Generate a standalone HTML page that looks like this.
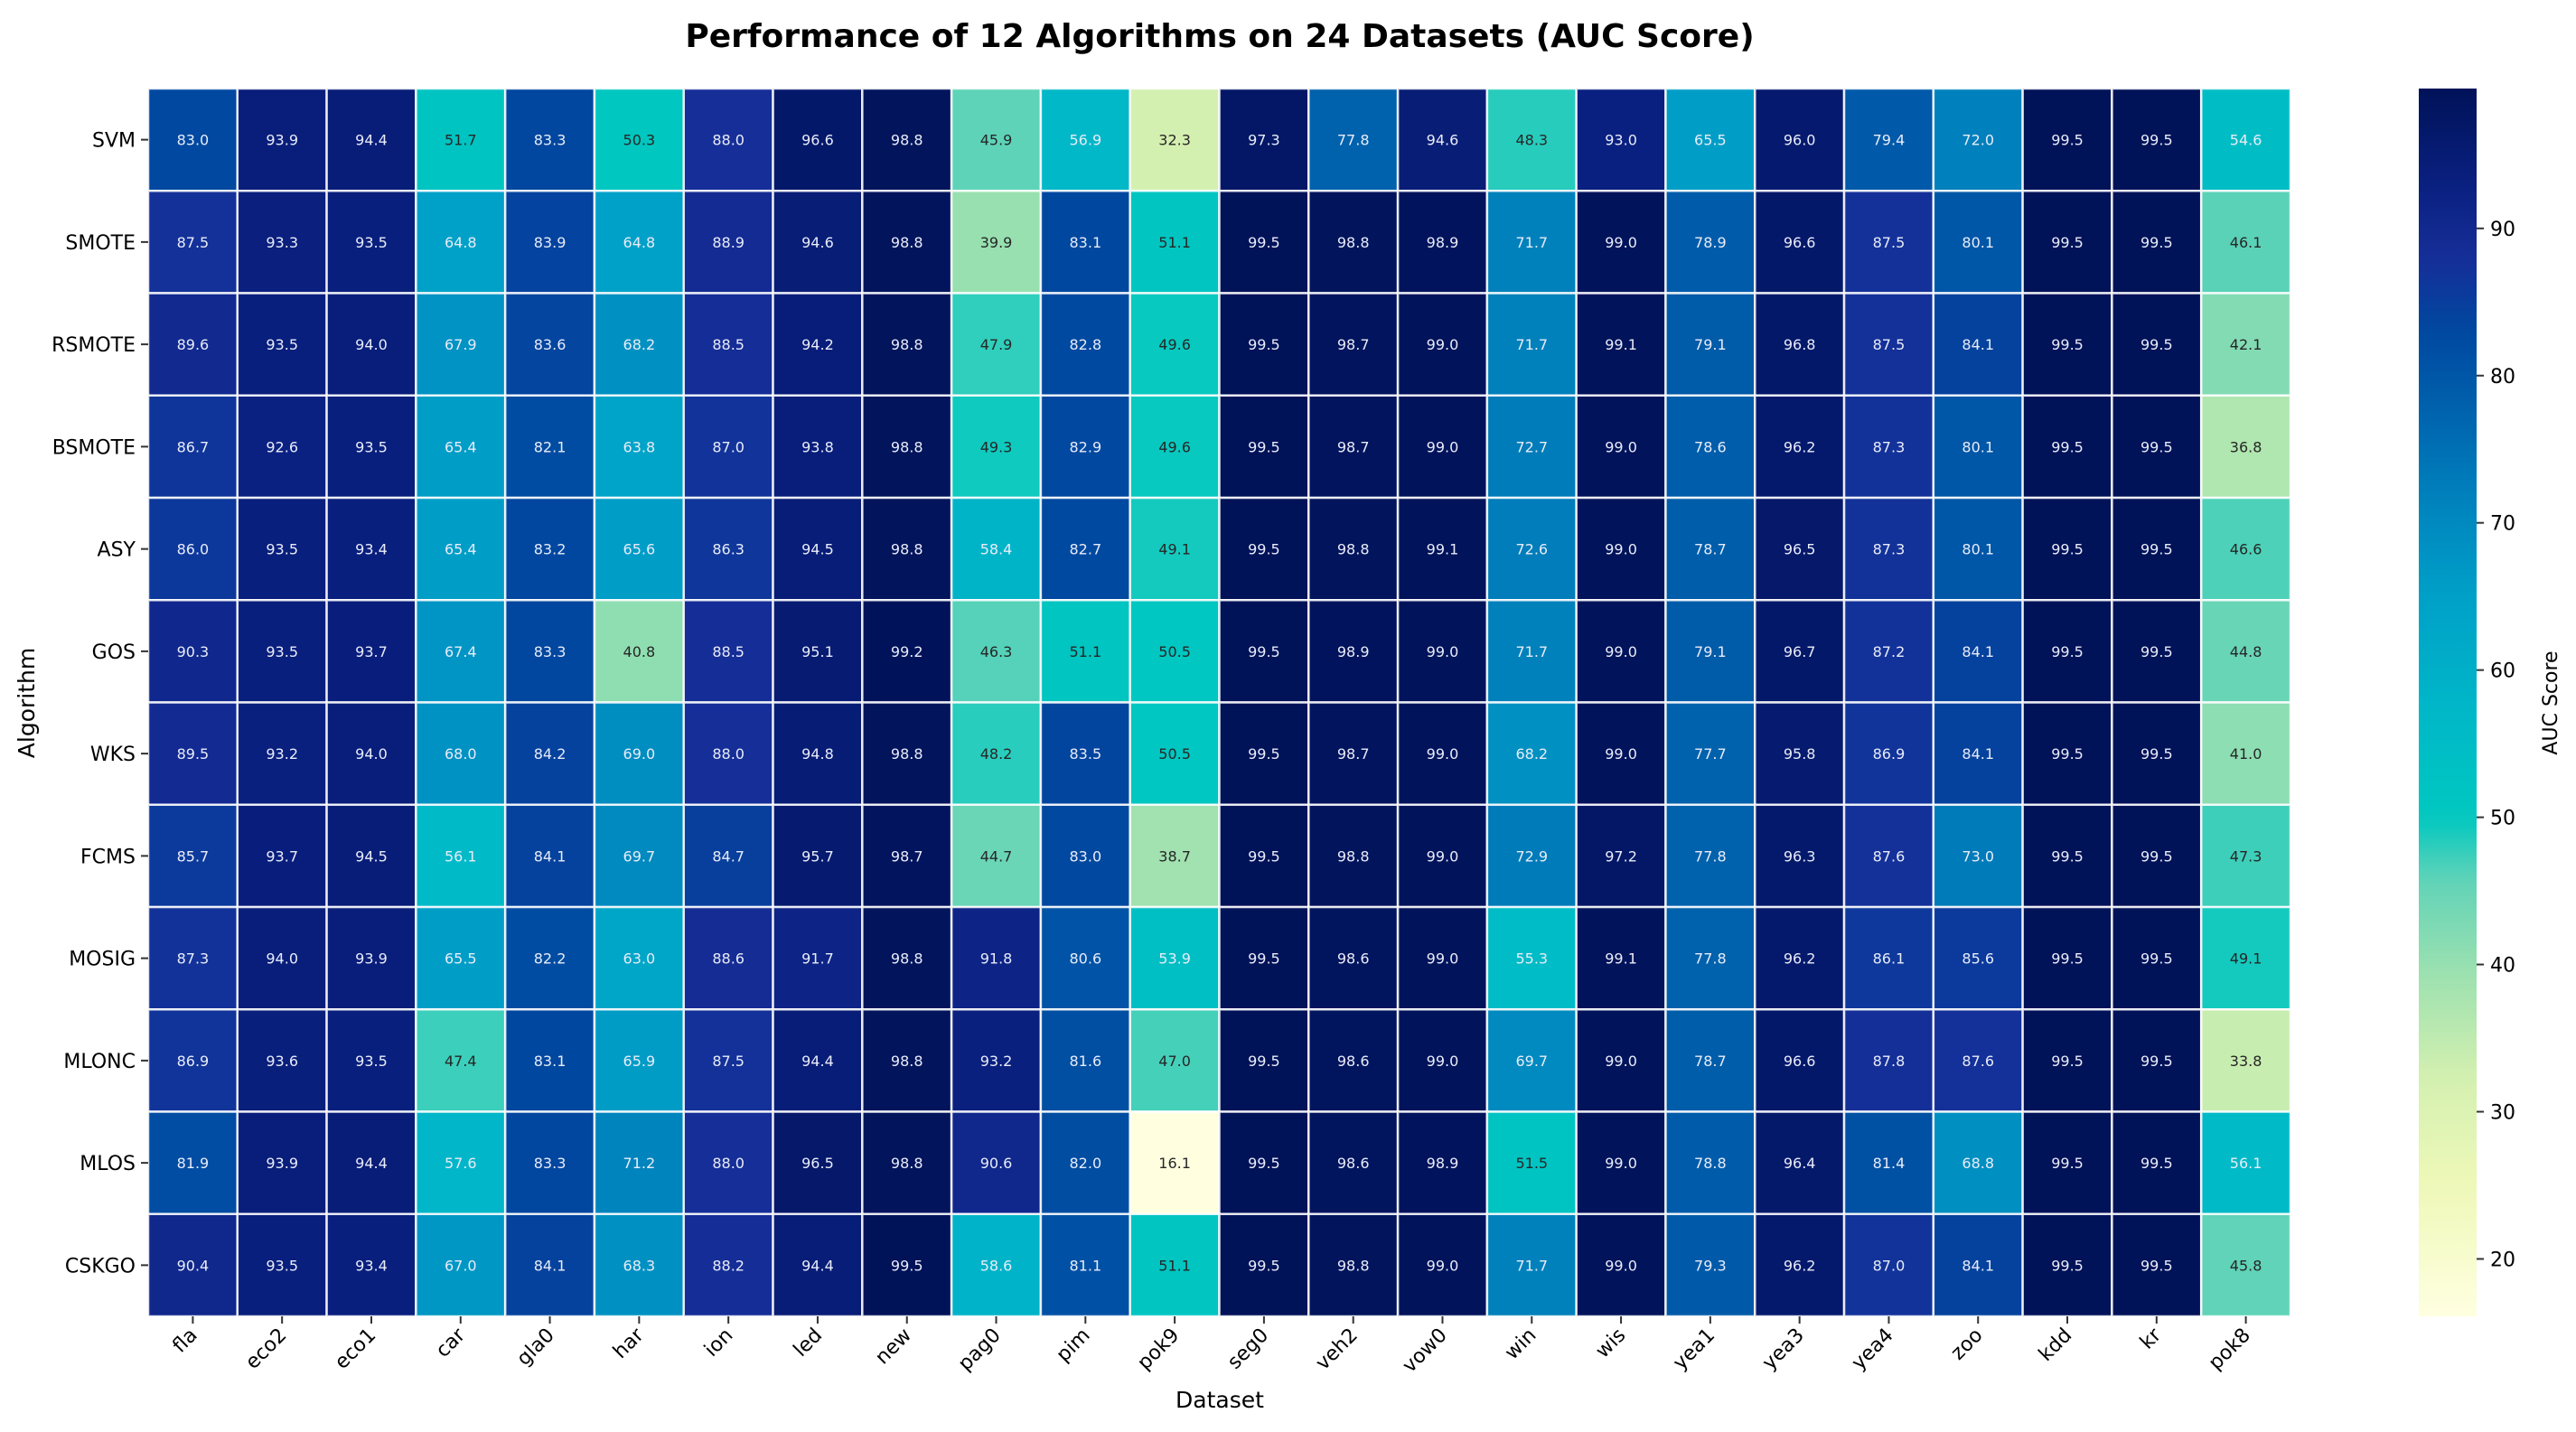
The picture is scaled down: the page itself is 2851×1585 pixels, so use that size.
<!DOCTYPE html>
<html><head><meta charset="utf-8"><style>
html,body{margin:0;padding:0;background:#fff;}
svg{display:block;font-family:"DejaVu Sans","Liberation Sans",sans-serif;}
</style></head><body>
<svg id="chart" width="2851" height="1585" viewBox="0 0 2851 1585" xmlns="http://www.w3.org/2000/svg">
<defs>
<linearGradient id="cbgrad" x1="0" y1="1" x2="0" y2="0"></linearGradient>
</defs>
<text x="1350" y="52" text-anchor="middle" font-size="36" font-weight="bold" fill="#000">Performance of 12 Algorithms on 24 Datasets (AUC Score)</text>
<g id="cells"></g>
<g id="xticks"></g>
<g id="yticks"></g>
<text x="1350" y="1558" text-anchor="middle" font-size="25" fill="#000">Dataset</text>
<text transform="translate(38,778) rotate(-90)" text-anchor="middle" font-size="25" fill="#000">Algorithm</text>
<rect x="2677" y="98" width="64" height="1359" fill="url(#cbgrad)"/>
<g id="cbticks"></g>
<text transform="translate(2830,778) rotate(-90)" text-anchor="middle" font-size="22" fill="#000">AUC Score</text>
</svg>
<script>
const algorithms = ["SVM","SMOTE","RSMOTE","BSMOTE","ASY","GOS","WKS","FCMS","MOSIG","MLONC","MLOS","CSKGO"];
const datasets = ["fla","eco2","eco1","car","gla0","har","ion","led","new","pag0","pim","pok9","seg0","veh2","vow0","win","wis","yea1","yea3","yea4","zoo","kdd","kr","pok8"];
const rowSVM = [83.0,93.9,94.4,51.7,83.3,50.3,88.0,96.6,98.8,45.9,56.9,32.3,97.3,77.8,94.6,48.3,93.0,65.5,96.0,79.4,72.0,99.5,99.5,54.6];
const rowSMOTE = [87.5,93.3,93.5,64.8,83.9,64.8,88.9,94.6,98.8,39.9,83.1,51.1,99.5,98.8,98.9,71.7,99.0,78.9,96.6,87.5,80.1,99.5,99.5,46.1];
const rowRSMOTE = [89.6,93.5,94.0,67.9,83.6,68.2,88.5,94.2,98.8,47.9,82.8,49.6,99.5,98.7,99.0,71.7,99.1,79.1,96.8,87.5,84.1,99.5,99.5,42.1];
const rowBSMOTE = [86.7,92.6,93.5,65.4,82.1,63.8,87.0,93.8,98.8,49.3,82.9,49.6,99.5,98.7,99.0,72.7,99.0,78.6,96.2,87.3,80.1,99.5,99.5,36.8];
const rowASY = [86.0,93.5,93.4,65.4,83.2,65.6,86.3,94.5,98.8,58.4,82.7,49.1,99.5,98.8,99.1,72.6,99.0,78.7,96.5,87.3,80.1,99.5,99.5,46.6];
const rowGOS = [90.3,93.5,93.7,67.4,83.3,40.8,88.5,95.1,99.2,46.3,51.1,50.5,99.5,98.9,99.0,71.7,99.0,79.1,96.7,87.2,84.1,99.5,99.5,44.8];
const rowWKS = [89.5,93.2,94.0,68.0,84.2,69.0,88.0,94.8,98.8,48.2,83.5,50.5,99.5,98.7,99.0,68.2,99.0,77.7,95.8,86.9,84.1,99.5,99.5,41.0];
const rowFCMS = [85.7,93.7,94.5,56.1,84.1,69.7,84.7,95.7,98.7,44.7,83.0,38.7,99.5,98.8,99.0,72.9,97.2,77.8,96.3,87.6,73.0,99.5,99.5,47.3];
const rowMOSIG = [87.3,94.0,93.9,65.5,82.2,63.0,88.6,91.7,98.8,91.8,80.6,53.9,99.5,98.6,99.0,55.3,99.1,77.8,96.2,86.1,85.6,99.5,99.5,49.1];
const rowMLONC = [86.9,93.6,93.5,47.4,83.1,65.9,87.5,94.4,98.8,93.2,81.6,47.0,99.5,98.6,99.0,69.7,99.0,78.7,96.6,87.8,87.6,99.5,99.5,33.8];
const rowMLOS = [81.9,93.9,94.4,57.6,83.3,71.2,88.0,96.5,98.8,90.6,82.0,16.1,99.5,98.6,98.9,51.5,99.0,78.8,96.4,81.4,68.8,99.5,99.5,56.1];
const rowCSKGO = [90.4,93.5,93.4,67.0,84.1,68.3,88.2,94.4,99.5,58.6,81.1,51.1,99.5,98.8,99.0,71.7,99.0,79.3,96.2,87.0,84.1,99.5,99.5,45.8];
const colorbarTicks = [20,30,40,50,60,70,80,90];

const values = [rowSVM,rowSMOTE,rowRSMOTE,rowBSMOTE,rowASY,rowGOS,rowWKS,rowFCMS,rowMOSIG,rowMLONC,rowMLOS,rowCSKGO];
const NS = "http://www.w3.org/2000/svg";
const L = 164, R = 2535, T = 98, B = 1457;
const cw = (R - L) / datasets.length, ch = (B - T) / algorithms.length;
const all = values.flat();
const vmin = Math.min(...all), vmax = Math.max(...all);
const xPos = i => L + i * cw;
const yPos = j => T + j * ch;
const cbY = v => B - (v - vmin) / (vmax - vmin) * (B - T);

// colour scale: fraction of range -> colour
const scale = [
 [0.000,"#ffffe0"],[0.107,"#eef8b8"],[0.194,"#d4f0b0"],[0.285,"#98e0b0"],[0.357,"#5fd3b8"],
 [0.406,"#00c8c0"],[0.490,"#00b8c8"],[0.586,"#00a0c8"],[0.670,"#0080bc"],[0.742,"#0060ac"],
 [0.802,"#0048a0"],[0.862,"#162e98"],[0.922,"#0a2080"],[1.000,"#001258"]];
function hex(h){return [1,3,5].map(i=>parseInt(h.substr(i,2),16));}
const rgbScale = scale.map(s=>[s[0],hex(s[1])]);
function cmap(v){
  let t = (v - vmin) / (vmax - vmin); t = Math.max(0, Math.min(1, t));
  let i = 0; while (i < rgbScale.length - 2 && t > rgbScale[i+1][0]) i++;
  const a = rgbScale[i], b = rgbScale[i+1];
  const f = (t - a[0]) / (b[0] - a[0]);
  return [0,1,2].map(k => Math.round(a[1][k] + (b[1][k]-a[1][k]) * f));
}
function lum(c){
  const l = c.map(x=>{x/=255;return x<=0.03928?x/12.92:Math.pow((x+0.055)/1.055,2.4);});
  return 0.2126*l[0]+0.7152*l[1]+0.0722*l[2];
}
function el(tag, attrs, parent){const e=document.createElementNS(NS,tag);for(const k in attrs)e.setAttribute(k,attrs[k]);parent.appendChild(e);return e;}

const cells = document.getElementById('cells');
values.forEach((row, j) => {
  row.forEach((v, i) => {
    const c = cmap(v);
    const r = el('rect', {x:xPos(i), y:yPos(j), width:cw, height:ch, fill:`rgb(${c[0]},${c[1]},${c[2]})`, stroke:'rgba(255,255,255,0.85)', 'stroke-width':2.5}, cells);
    
    
    const t = el('text', {x:xPos(i)+cw/2, y:yPos(j)+ch/2+6, 'text-anchor':'middle', 'font-size':16, fill: lum(c) > 0.42 ? '#262626' : '#e8ecf8'}, cells);
    t.textContent = v.toFixed(1);
    
    
  });
});

const xg = document.getElementById('xticks');
datasets.forEach((d, i) => {
  const cx = xPos(i) + cw/2;
  const tk = el('line', {x1:cx, y1:B, x2:cx, y2:B+8, stroke:'#333', 'stroke-width':2}, xg);
  
  
  const t = el('text', {transform:`translate(${cx+6},${B+22}) rotate(-45)`, 'text-anchor':'end', 'font-size':22, fill:'#000'}, xg);
  t.textContent = d;
  
  
});

const yg = document.getElementById('yticks');
algorithms.forEach((a, j) => {
  const cy = yPos(j) + ch/2;
  const tk = el('line', {x1:L-8, y1:cy, x2:L, y2:cy, stroke:'#333', 'stroke-width':2}, yg);
  
  
  const t = el('text', {x:L-14, y:cy+8, 'text-anchor':'end', 'font-size':22, fill:'#000'}, yg);
  t.textContent = a;
  
  
});

const grad = document.getElementById('cbgrad');
for (let k = 0; k <= 60; k++) {
  const v = vmin + (vmax - vmin) * k / 60; const c = cmap(v);
  el('stop', {offset: (k/60*100)+'%', 'stop-color': `rgb(${c[0]},${c[1]},${c[2]})`}, grad);
}
const cbg = document.getElementById('cbticks');
colorbarTicks.forEach(v => {
  const y = cbY(v);
  const tk = el('line', {x1:2741, y1:y, x2:2749, y2:y, stroke:'#333', 'stroke-width':2}, cbg);
  
  
  const t = el('text', {x:2756, y:y+8, 'font-size':22, fill:'#000'}, cbg);
  t.textContent = v;
  
  
});
</script>
</body></html>
